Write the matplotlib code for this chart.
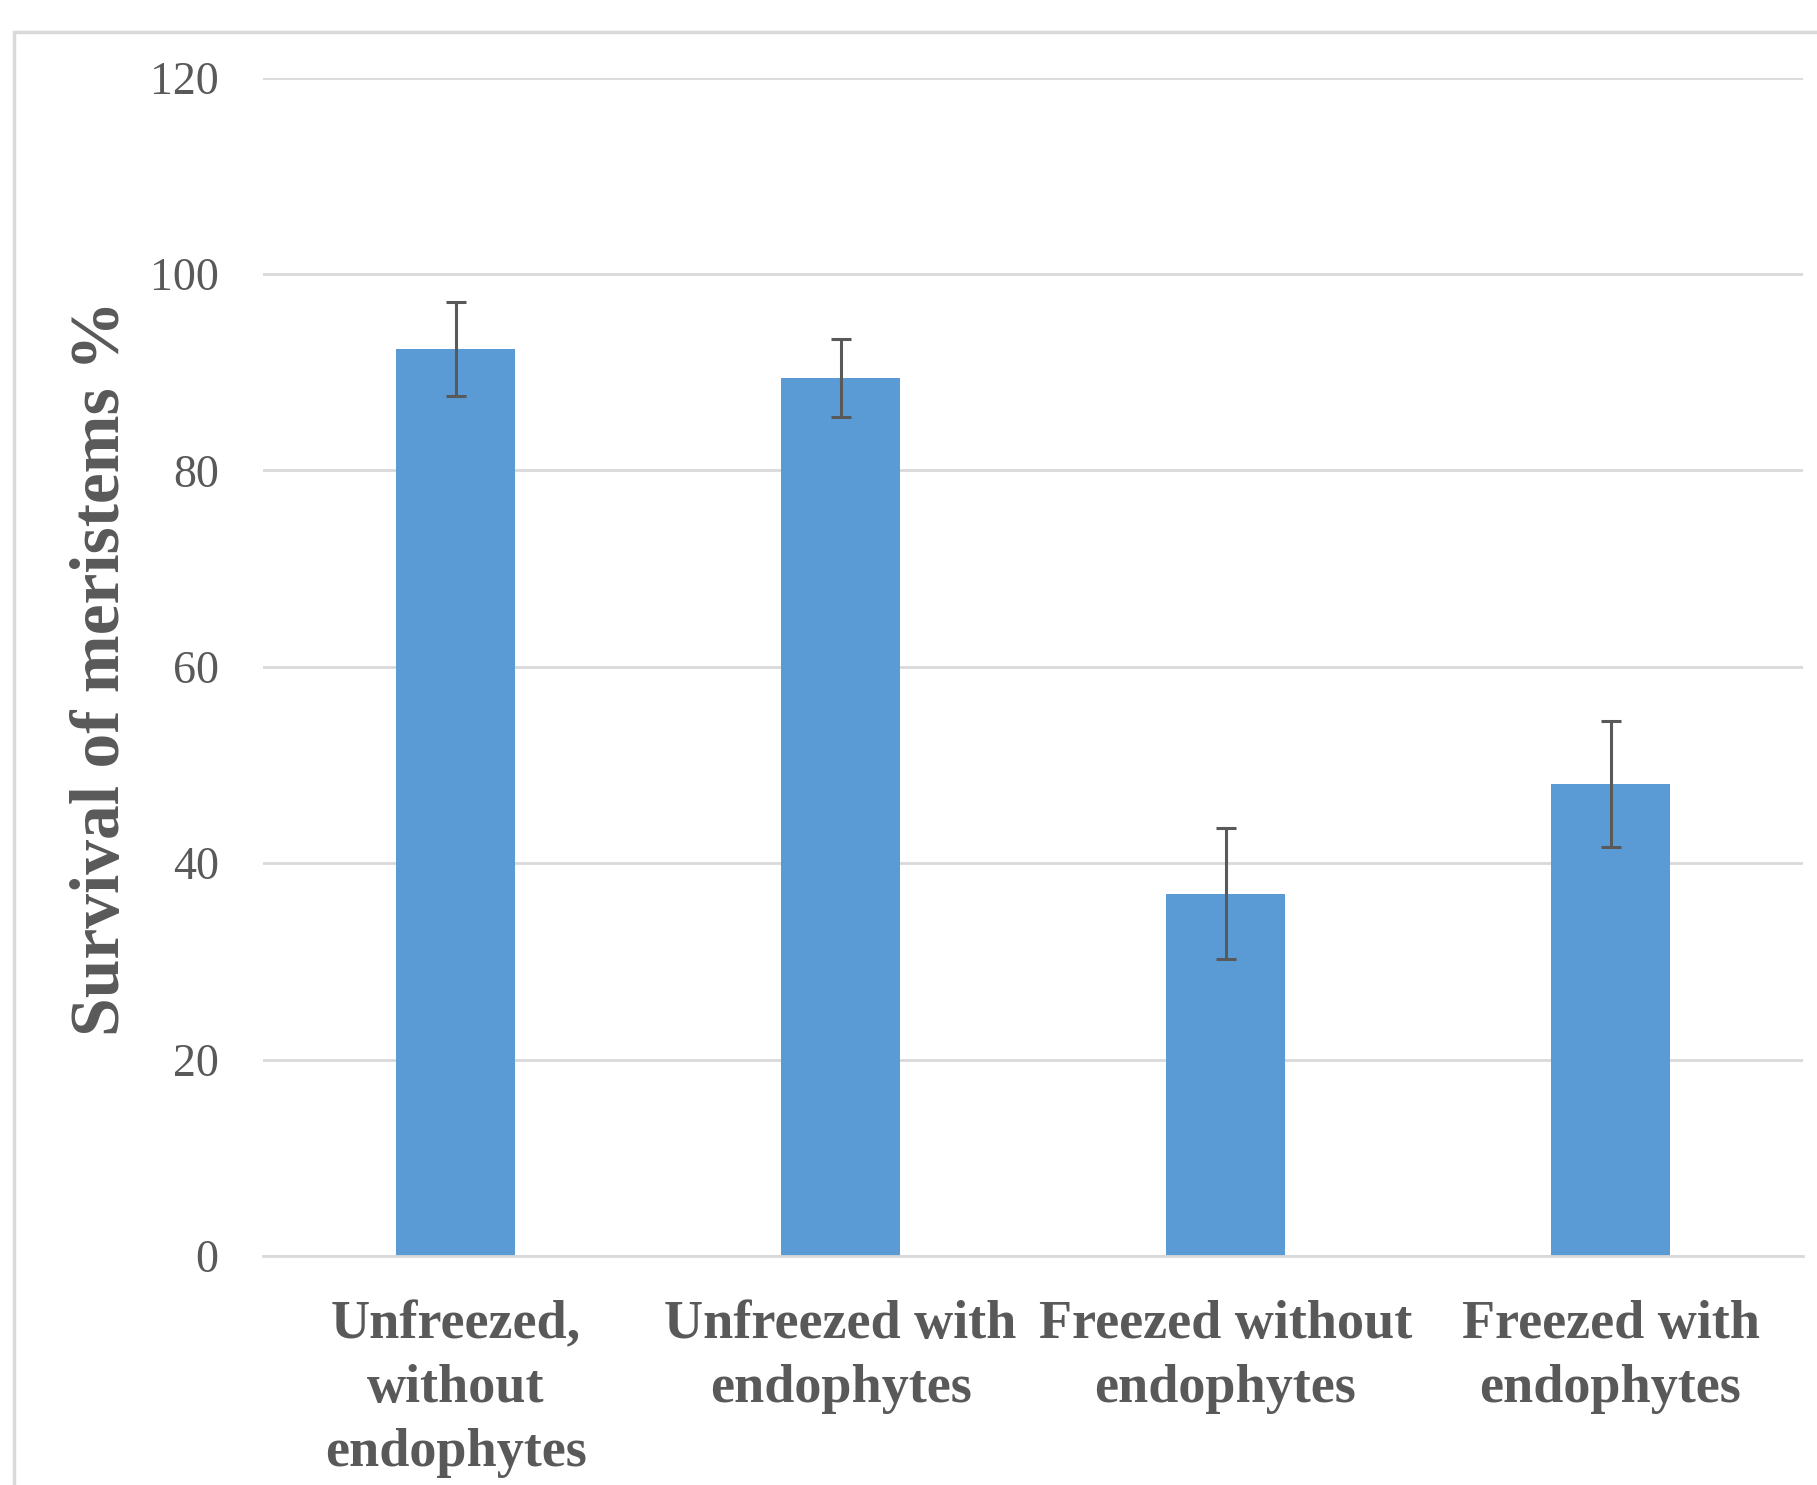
import matplotlib.pyplot as plt
from matplotlib.patches import Rectangle

# datos
categories = ['Unfreezed,\nwithout\nendophytes', 'Unfreezed with\nendophytes',
              'Freezed without\nendophytes', 'Freezed with\nendophytes']
survival = [92.4, 89.4, 36.9, 48.1]
errors = [4.8, 4.0, 6.7, 6.4]
yticks = [0, 20, 40, 60, 80, 100, 120]

plt.rcParams['font.family'] = ['Liberation Serif', 'DejaVu Serif']

fig = plt.figure(figsize=(18.17, 14.85), dpi=100)
ax = fig.add_axes([0.1448, 0.1542, 0.9923 - 0.1448, 0.9477 - 0.1542])

x = range(len(categories))
ax.bar(x, survival, width=0.31, color='#5B9BD5', zorder=3,
       yerr=errors, error_kw=dict(ecolor='#595959', elinewidth=2.2, capsize=7, capthick=2.2, zorder=4))

ax.set_xlim(-0.5, 3.5)
ax.set_ylim(0, 120)
ax.set_yticks(yticks)
ax.grid(axis='y', color='#D9D9D9', linewidth=2, zorder=0)
ax.set_axisbelow(True)
for s in ['top', 'right', 'left']:
    ax.spines[s].set_visible(False)
ax.spines['bottom'].set_color('#D9D9D9')
ax.spines['bottom'].set_linewidth(2)
ax.spines['bottom'].set_zorder(5)

ax.tick_params(axis='y', length=0, pad=32, labelsize=33, labelcolor='#595959')
ax.tick_params(axis='x', length=0, pad=32)
ax.set_xticks(list(x))
ax.set_xticklabels(categories, fontsize=39, fontweight='bold', color='#595959', linespacing=1.36)

fig.text(0.056, 0.55, 'Survival of meristems %', rotation=90, ha='center', va='center',
         fontsize=50, fontweight='bold', color='#595959')

# borde del area del grafico
fig.patches.append(Rectangle((14 / 1817, -0.1), 1.2, 1 - 32 / 1485 + 0.1, transform=fig.transFigure,
                             fill=False, edgecolor='#D9D9D9', linewidth=2.5))

fig.savefig('out.png', dpi=100)
